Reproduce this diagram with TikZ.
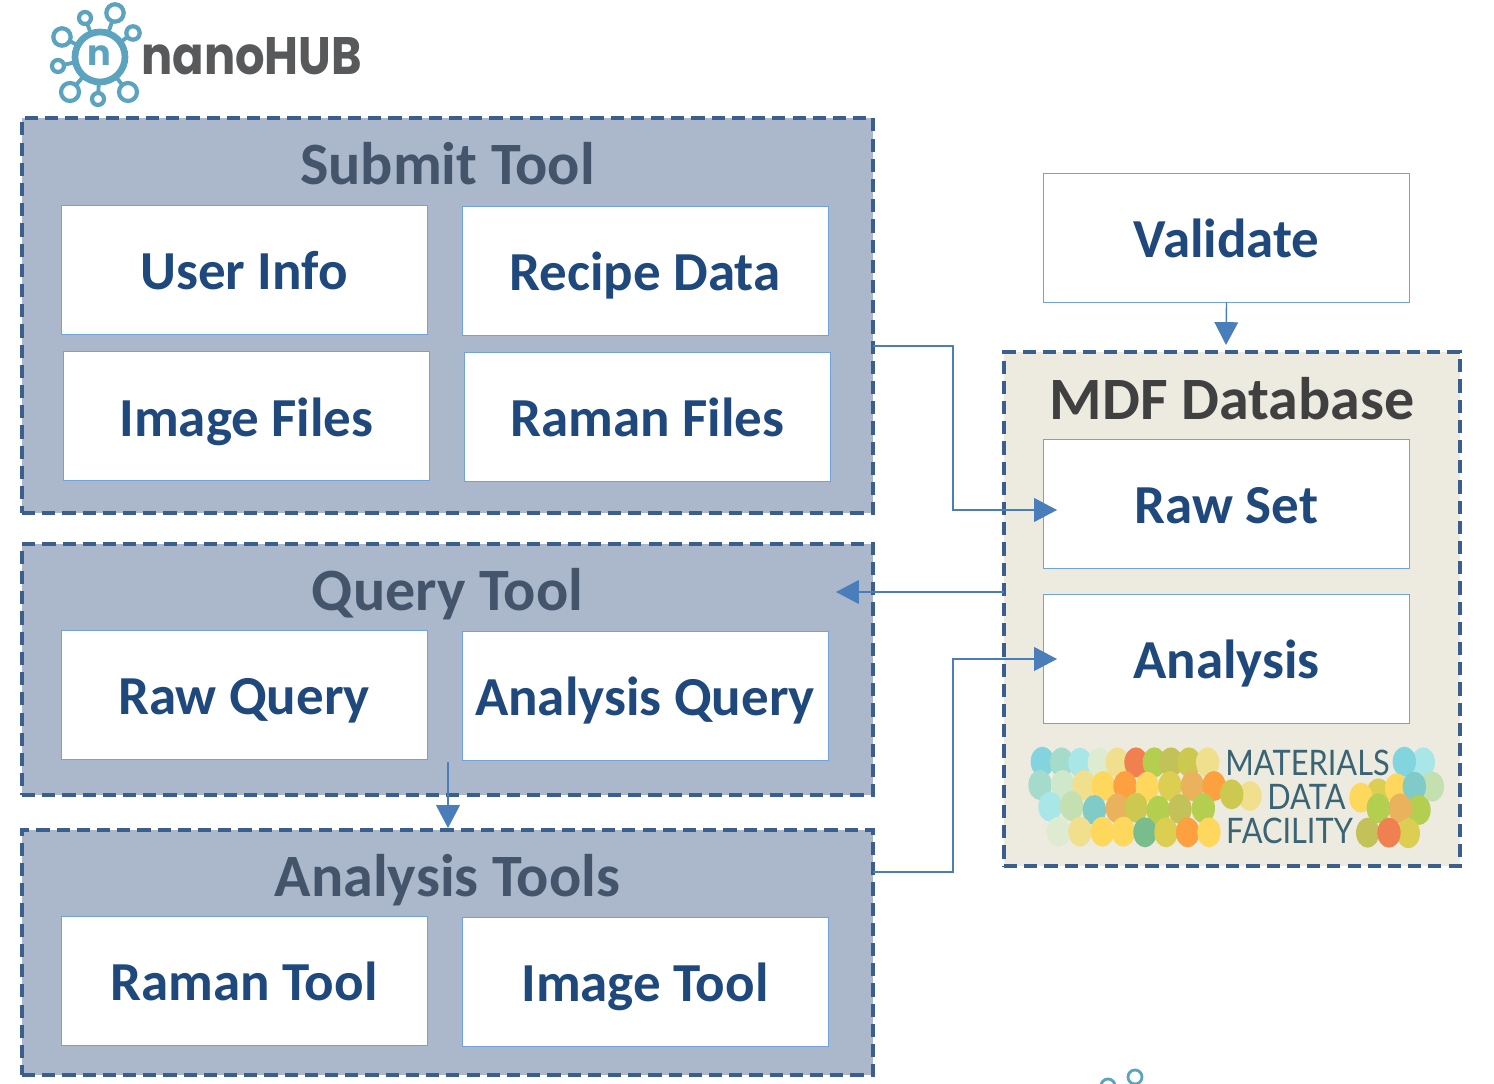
\documentclass[tikz,border=0pt]{standalone}
\usepackage{fontspec}
\setmainfont{Carlito}
\newfontfamily\logofont{Poppins}
\newfontfamily\mdffont{Lato}
\definecolor{panelblue}{HTML}{ABB7CB}
\definecolor{dashblue}{HTML}{3A5F8F}
\definecolor{edgeblue}{HTML}{6FA3DC}
\definecolor{arrowblue}{HTML}{4A7EBB}
\definecolor{titleslate}{HTML}{44546A}
\definecolor{textnavy}{HTML}{1F497D}
\definecolor{mdfbeige}{HTML}{EDEBE0}
\definecolor{mdfgrey}{HTML}{404040}
\definecolor{hubteal}{HTML}{5BA3BF}
\definecolor{hubgrey}{HTML}{58595B}
\definecolor{mdfink}{HTML}{3A6474}
\definecolor{bubA}{HTML}{82D5DF}
\definecolor{bubB}{HTML}{A5DBCB}
\definecolor{bubC}{HTML}{A9E6E8}
\definecolor{bubD}{HTML}{DDEBD0}
\definecolor{bubE}{HTML}{F0DF8C}
\definecolor{bubF}{HTML}{F08050}
\definecolor{bubG}{HTML}{B4CE50}
\definecolor{bubH}{HTML}{C2C258}
\definecolor{bubI}{HTML}{CCC850}
\definecolor{bubJ}{HTML}{CFE8CC}
\definecolor{bubK}{HTML}{FDD85D}
\definecolor{bubL}{HTML}{FDA040}
\definecolor{bubM}{HTML}{DCCE50}
\definecolor{bubN}{HTML}{EBB25E}
\definecolor{bubO}{HTML}{C5E0B0}
\definecolor{bubP}{HTML}{80CBC8}
\definecolor{bubQ}{HTML}{7ABD8D}
\tikzset{
  panel/.style={draw=dashblue,fill=panelblue,line width=2.7pt,dash pattern=on 7.5pt off 4pt,minimum width=851*0.02cm,inner sep=0pt},
  panelhead/.style={text=titleslate,font=\fontsize{34.2}{34.2}\selectfont\bfseries,inner sep=0pt,text height=24pt,text depth=0pt},
  itembox/.style={draw=edgeblue,fill=white,line width=0.5pt,minimum width=366*0.02cm,minimum height=129*0.02cm,inner sep=0pt,text=textnavy,font=\fontsize{31.3}{31.3}\selectfont\bfseries,text height=22.5pt,text depth=0pt},
  mdfword/.style={text=mdfink,inner sep=0pt,xscale=0.875,transform shape,font=\mdffont\fontsize{20}{20}\selectfont},
  link/.style={draw=arrowblue,line width=0.8pt},
  linktip/.style={link,-{Triangle[length=13pt,width=13.5pt]}}
}
\usetikzlibrary{arrows.meta}
\begin{document}
\begin{tikzpicture}[x=0.02cm,y=-0.02cm]
  \useasboundingbox (0,0) rectangle (1494,1084);
  % left panels
  \node[panel,minimum height=395*0.02cm] (submit) at (447.5,315.5) {};
  \node[panel,minimum height=251*0.02cm] (query) at (447.5,669.5) {};
  \node[panel,minimum height=245*0.02cm] (analysistools) at (447.5,952.5) {};
  \node[panelhead] (submithead) at (447.5,163) {Submit Tool};
  \node[panelhead] (queryhead) at (447.5,589) {Query Tool};
  \node[panelhead] (toolshead) at (447.5,875) {Analysis Tools};
  % boxes
  \node[itembox] (userinfo) at (244,269.5) {User Info};
  \node[itembox] (recipe) at (645,270.5) {Recipe Data};
  \node[itembox,text height=24pt] (imagefiles) at (246.5,415.5) {Image Files};
  \node[itembox] (ramanfiles) at (647.5,417) {Raman Files};
  \node[itembox] (rawquery) at (244,694.5) {Raw Query};
  \node[itembox] (analysisquery) at (645,695.5) {Analysis Query};
  \node[itembox] (ramantool) at (244,980.5) {Raman Tool};
  \node[itembox] (imagetool) at (645,981.5) {Image Tool};
  % right side
  \node[panel,draw=dashblue,fill=mdfbeige,minimum width=456*0.02cm,minimum height=514*0.02cm] (mdf) at (1232,609) {};
  \node[panelhead,text=mdfgrey] (mdfhead) at (1232,398) {MDF Database};
  \node[itembox] (validate) at (1226.5,237.5) {Validate};
  \node[itembox] (rawset) at (1226.5,503.5) {Raw Set};
  \node[itembox] (analysis) at (1226.5,659) {Analysis};
  % link ends
  \coordinate (submitout) at (873,346);
  \coordinate (rawin) at (1057,510);
  \coordinate (validatein) at (1226,345);
  \coordinate (mdfout) at (1004,592);
  \coordinate (queryin) at (836,592);
  \coordinate (queryout) at (448,762);
  \coordinate (toolsin) at (448,828);
  \coordinate (toolsout) at (873,872);
  \coordinate (analysisin) at (1057,659);
  \draw[linktip] (submitout) -- (953,346) -- (953,510) -- (rawin);
  \draw[linktip] (validate.south) -- (validatein);
  \draw[linktip] (mdfout) -- (queryin);
  \draw[linktip] (queryout) -- (toolsin);
  \draw[linktip] (toolsout) -- (953,872) -- (953,659) -- (analysisin);
  % nanoHUB logo
  \foreach \sx/\sy/\sr in {115/13/8.7,85/18/6,133/33/6.7,62/37/8.7,58/66/6,70/92/9,98/99/6,128/92/9}{
    \draw[hubteal,line width=2.2pt] (100,57) -- (\sx,\sy);
    \draw[hubteal,fill=white,line width=2.4pt] (\sx,\sy) circle (\sr);
  }
  \draw[hubteal,fill=white,line width=3.8pt] (100,57) circle (25);
  \node[text=hubteal,inner sep=0pt,font=\logofont\fontsize{20}{20}\selectfont\bfseries] (hubmark) at (99,56) {n};
  \node[anchor=west,text=hubgrey,inner sep=0pt,xscale=0.88,transform shape,font=\logofont\fontsize{30}{30}\selectfont\bfseries] (hubname) at (141,56) {nanoHUB};
  % stray logo at the foot
  \draw[hubteal,line width=1.6pt] (1135,1077) circle (7);
  \draw[hubteal,line width=1.6pt] (1108,1086) circle (7);
  % MDF logo
  \begin{scope}[shift={(1010,730)},x=0.00667cm,y=-0.00667cm]
    \foreach \bx/\by/\bcol in {97/95/bubA,155/97/bubB,210/98/bubC,268/98/bubD,322/97/bubE,378/97/bubF,433/97/bubG,483/97/bubH,537/97/bubI,593/97/bubE,
      90/165/bubB,158/165/bubJ,222/165/bubE,280/168/bubK,345/168/bubL,412/170/bubK,480/168/bubM,547/168/bubN,612/168/bubL,720/198/bubE,665/193/bubI,
      120/230/bubC,185/228/bubO,253/240/bubP,322/235/bubN,378/233/bubI,445/242/bubG,510/237/bubH,580/235/bubG,
      145/305/bubD,210/305/bubE,277/305/bubK,340/305/bubK,405/307/bubQ,468/307/bubM,533/307/bubL,597/307/bubK,
      1240/97/bubC,1183/95/bubA,1267/170/bubO,1105/190/bubM,1160/175/bubK,1213/170/bubP,1053/203/bubK,1227/240/bubG,1170/235/bubN,1105/235/bubG,1195/310/bubM,1073/308/bubH,1137/308/bubF}{
      \fill[\bcol] (\bx,\by) ellipse (35 and 45);
    }
  \end{scope}
  \node[mdfword] (mdfword1) at (1307.5,763) {MATERIALS};
  \node[mdfword] (mdfword2) at (1306.5,797) {DATA};
  \node[mdfword] (mdfword3) at (1289.5,831) {FACILITY};
\end{tikzpicture}
\end{document}
